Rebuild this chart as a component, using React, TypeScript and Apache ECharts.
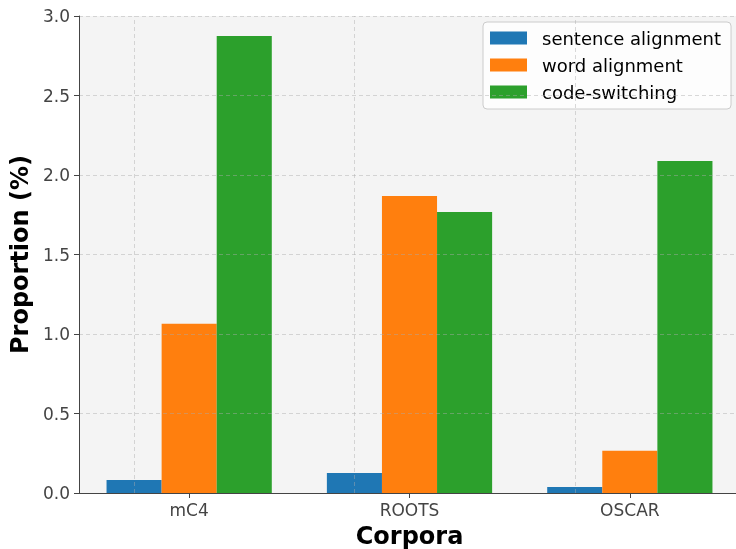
import React, { useEffect, useRef } from "react";
import * as echarts from "echarts";

const categories = ["mC4", "ROOTS", "OSCAR"];
const sentenceAlignment = [0.082, 0.126, 0.038];
const wordAlignment = [1.065, 1.868, 0.265];
const codeSwitching = [2.875, 1.768, 2.088];
const yTicks = { min: 0, max: 3, interval: 0.5 };

const FONT = "DejaVu Sans";
const GRID_COLOR = "rgba(170,170,170,0.45)";

export default function App() {
  const ref = useRef<HTMLDivElement>(null);
  useEffect(() => {
    if (!ref.current) return;
    const chart = echarts.init(ref.current, null, { renderer: "svg" });
    const barCommon = {
      type: "bar" as const,
      barWidth: "25%",
      barGap: "0%",
    };
    chart.setOption({
      animation: false,
      textStyle: { fontFamily: FONT },
      grid: {
        left: 79,
        right: -4,
        top: 16,
        bottom: 56,
        outerBoundsMode: "none",
        containLabel: false,
        show: true,
        backgroundColor: "#f4f4f4",
        borderWidth: 0,
      },
      legend: {
        orient: "vertical",
        left: 483,
        top: 22,
        padding: [6, 10, 7, 7],
        itemWidth: 37,
        itemHeight: 13,
        itemGap: 7,
        icon: "rect",
        backgroundColor: "rgba(255,255,255,0.8)",
        borderColor: "#cccccc",
        borderWidth: 1,
        borderRadius: 4,
        textStyle: {
          fontFamily: FONT,
          fontSize: 18,
          color: "#000",
          lineHeight: 20,
          padding: [0, 0, 0, 10],
        },
        data: ["sentence alignment", "word alignment", "code-switching"],
      },
      xAxis: {
        type: "category",
        data: categories,
        name: "Corpora",
        nameLocation: "middle",
        nameGap: 31,
        nameTextStyle: { fontFamily: FONT, fontSize: 24, fontWeight: "bold", color: "#000" },
        axisLine: { show: true, lineStyle: { color: "#444", width: 1 } },
        axisTick: { show: true, alignWithLabel: true, length: 5, lineStyle: { color: "#444" } },
        axisLabel: { fontFamily: FONT, fontSize: 17, color: "#444", margin: 8 },
        splitLine: { show: false },
        z: 5,
      },
      yAxis: {
        type: "value",
        min: yTicks.min,
        max: yTicks.max,
        interval: yTicks.interval,
        name: "Proportion (%)",
        nameLocation: "middle",
        nameGap: 45,
        nameTextStyle: { fontFamily: FONT, fontSize: 24, fontWeight: "bold", color: "#000" },
        axisLine: { show: true, lineStyle: { color: "#444", width: 1 } },
        axisTick: { show: true, length: 5, lineStyle: { color: "#444" } },
        axisLabel: {
          fontFamily: FONT,
          fontSize: 17,
          color: "#444",
          margin: 9,
          formatter: (v: number) => v.toFixed(1),
        },
        splitLine: { show: true, lineStyle: { color: GRID_COLOR, type: [4, 3], width: 1 } },
        z: 5,
      },
      series: [
        {
          ...barCommon,
          name: "sentence alignment",
          data: sentenceAlignment,
          itemStyle: { color: "#1f77b4" },
          markLine: {
            silent: true,
            symbol: "none",
            label: { show: false },
            lineStyle: { color: GRID_COLOR, type: [4, 3], width: 1 },
            z: 10,
            data: categories.map((c) => ({ xAxis: c })),
          },
        },
        {
          ...barCommon,
          name: "word alignment",
          data: wordAlignment,
          itemStyle: { color: "#ff7f0e" },
        },
        {
          ...barCommon,
          name: "code-switching",
          data: codeSwitching,
          itemStyle: { color: "#2ca02c" },
        },
      ],
    });
    return () => chart.dispose();
  }, []);
  return (
    <div
      ref={ref}
      style={{ position: "fixed", left: 0, top: 0, width: 736, height: 549 }}
    />
  );
}
